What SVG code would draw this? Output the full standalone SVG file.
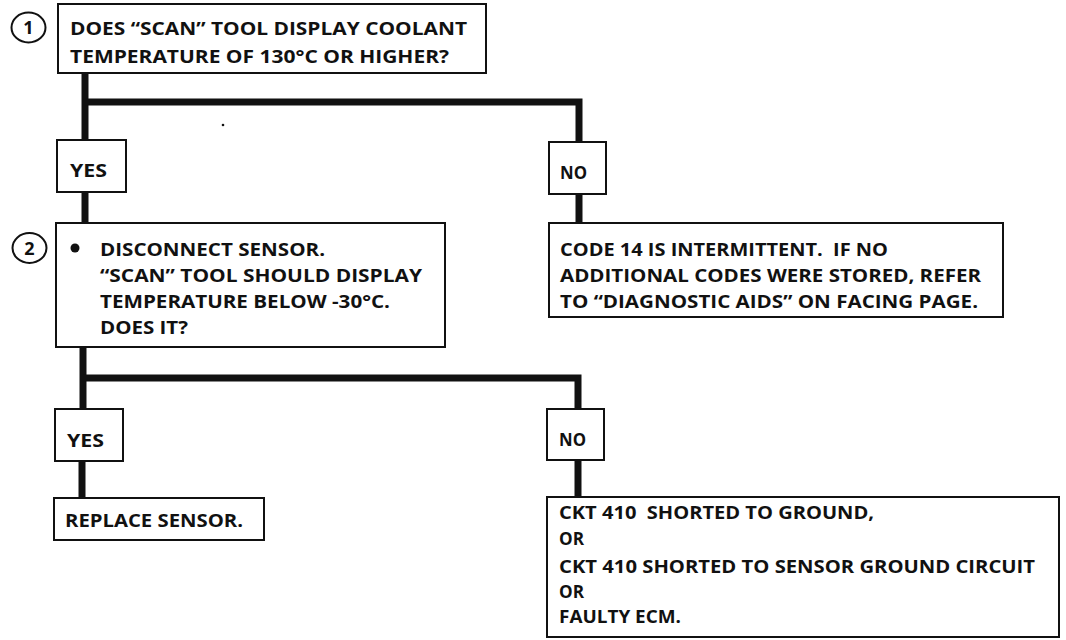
<svg xmlns="http://www.w3.org/2000/svg" width="1066" height="640" viewBox="0 0 1066 640">
<style>
.box{fill:#fff;stroke:#111;stroke-width:2}
.t{font-family:"Open Sans","Liberation Sans",sans-serif;font-weight:700;font-size:18px;fill:#111;white-space:pre}
.num{font-family:"Open Sans","Liberation Sans",sans-serif;font-weight:700;font-size:18px;fill:#111;text-anchor:middle}
.ring{fill:#fff;stroke:#111;stroke-width:2}
.c{fill:none;stroke:#111;stroke-width:7;stroke-linejoin:miter;stroke-linecap:butt}
</style>
<rect width="1066" height="640" fill="#fff"/>
<g id="connectors">
<path class="c" d="M85 73 V140"/>
<path class="c" d="M85 102 H579 V142"/>
<path class="c" d="M85 192 V223"/>
<path class="c" d="M579 194 V223"/>
<path class="c" d="M83 347 V409"/>
<path class="c" d="M83 378 H578 V409"/>
<path class="c" d="M82 461 V498"/>
<path class="c" d="M578 460 V497"/>
</g>
<g id="step1">
<ellipse class="ring" cx="28.5" cy="27.5" rx="17" ry="15"/>
<text class="num" x="28.5" y="34">1</text>
</g>
<g id="q1">
<rect class="box" x="58" y="4" width="428" height="69"/>
<text class="t" x="70" y="35" textLength="397" lengthAdjust="spacingAndGlyphs">DOES “SCAN” TOOL DISPLAY COOLANT</text>
<text class="t" x="70" y="63" textLength="379" lengthAdjust="spacingAndGlyphs">TEMPERATURE OF 130°C OR HIGHER?</text>
</g>
<g id="yes1">
<rect class="box" x="57" y="140" width="69" height="52"/>
<text class="t" x="70" y="177" textLength="37" lengthAdjust="spacingAndGlyphs">YES</text>
</g>
<g id="no1">
<rect class="box" x="549" y="142" width="57" height="52"/>
<text class="t" x="560" y="179" textLength="27" lengthAdjust="spacingAndGlyphs">NO</text>
</g>
<g id="code14">
<rect class="box" x="549" y="223" width="454" height="94"/>
<text class="t" x="560" y="256" textLength="328" lengthAdjust="spacingAndGlyphs">CODE 14 IS INTERMITTENT.  IF NO</text>
<text class="t" x="560" y="282" textLength="421" lengthAdjust="spacingAndGlyphs">ADDITIONAL CODES WERE STORED, REFER</text>
<text class="t" x="560" y="308" textLength="418" lengthAdjust="spacingAndGlyphs">TO “DIAGNOSTIC AIDS” ON FACING PAGE.</text>
</g>
<g id="step2">
<ellipse class="ring" cx="29.5" cy="248" rx="17" ry="15"/>
<text class="num" x="29.5" y="254.5">2</text>
</g>
<g id="q2">
<rect class="box" x="56" y="223" width="389" height="124"/>
<circle cx="75" cy="248" r="4.5" fill="#111"/>
<text class="t" x="100" y="256" textLength="225" lengthAdjust="spacingAndGlyphs">DISCONNECT SENSOR.</text>
<text class="t" x="100" y="282" textLength="322" lengthAdjust="spacingAndGlyphs">“SCAN” TOOL SHOULD DISPLAY</text>
<text class="t" x="100" y="308" textLength="290" lengthAdjust="spacingAndGlyphs">TEMPERATURE BELOW -30°C.</text>
<text class="t" x="100" y="334" textLength="88" lengthAdjust="spacingAndGlyphs">DOES IT?</text>
</g>
<g id="yes2">
<rect class="box" x="55" y="409" width="68" height="52"/>
<text class="t" x="67" y="447" textLength="37" lengthAdjust="spacingAndGlyphs">YES</text>
</g>
<g id="no2">
<rect class="box" x="547" y="409" width="57" height="51"/>
<text class="t" x="559" y="446" textLength="27" lengthAdjust="spacingAndGlyphs">NO</text>
</g>
<g id="replace">
<rect class="box" x="54" y="498" width="210" height="42"/>
<text class="t" x="65" y="527" textLength="178" lengthAdjust="spacingAndGlyphs">REPLACE SENSOR.</text>
</g>
<g id="ckt410">
<rect class="box" x="547" y="497" width="512" height="140"/>
<text class="t" x="559" y="519" textLength="315" lengthAdjust="spacingAndGlyphs">CKT 410  SHORTED TO GROUND,</text>
<text class="t" x="559" y="545" textLength="25" lengthAdjust="spacingAndGlyphs">OR</text>
<text class="t" x="559" y="573" textLength="476" lengthAdjust="spacingAndGlyphs">CKT 410 SHORTED TO SENSOR GROUND CIRCUIT</text>
<text class="t" x="559" y="598" textLength="25" lengthAdjust="spacingAndGlyphs">OR</text>
<text class="t" x="559" y="623" textLength="122" lengthAdjust="spacingAndGlyphs">FAULTY ECM.</text>
</g>
<circle cx="223" cy="125" r="1.3" fill="#111"/>
</svg>
